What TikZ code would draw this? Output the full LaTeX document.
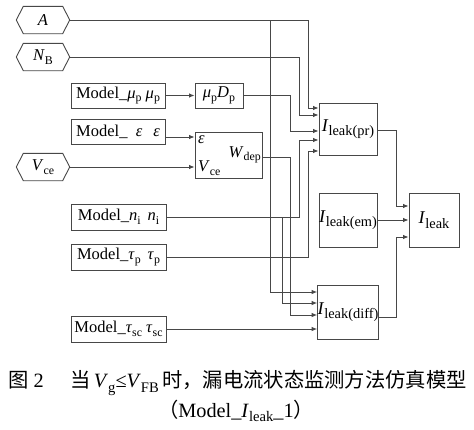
\documentclass[tikz,border=0pt]{standalone}
\usepackage{fontspec}
\setmainfont{Liberation Serif}
\newfontfamily\cjk{Noto Sans CJK SC}
\usetikzlibrary{arrows.meta}
\newcommand\sbs[1]{\raisebox{-0.22em}{\scalebox{0.72}{#1}}}
\newcommand\sbb[1]{\raisebox{-0.25em}{\scalebox{0.8}{#1}}}
\newcommand\mi[1]{\textit{#1}}
\newcommand\hexnode[3]{%
  \node[lbl, minimum width=53pt, minimum height=27pt] (#1) at (#2) {#3};
  \draw[wire] (#1.west) -- ([xshift=7pt]#1.north west) -- ([xshift=-7pt]#1.north east)
    -- (#1.east) -- ([xshift=-7pt]#1.south east) -- ([xshift=7pt]#1.south west) -- cycle;}
\begin{document}
\begin{tikzpicture}[x=1pt,y=-1pt,
  wire/.style={draw=black!72, line width=0.9pt},
  arr/.style={wire, -{Latex[length=5.5pt,width=4.5pt]}},
  lbl/.style={inner sep=0pt, font=\fontsize{16.5}{18}\selectfont},
  blk/.style={lbl, draw=black!72, line width=0.9pt, rectangle},
  big/.style={font=\fontsize{18}{20}\selectfont},
  captext/.style={inner sep=0pt, font=\fontsize{20.3}{22}\selectfont}
]
\useasboundingbox (0,0) rectangle (474,429);
% inputs
\hexnode{A}{43,20}{\mi{A}}
\hexnode{NB}{43,57}{\mi{N}\sbs{B}}
\hexnode{Vce}{43,167}{\mi{V}\sbs{ce}}
% model boxes
\node[blk, minimum width=94pt, minimum height=25pt] (Mup) at (118,95.5) {Model\_\mi{μ}\sbs{p} \mi{μ}\sbs{p}};
\node[blk, minimum width=94pt, minimum height=25pt] (Meps) at (118,132) {Model\_\,\,\,\mi{ε}\,\,\,\,\mi{ε}};
\node[blk, minimum width=95pt, minimum height=26pt] (Mni) at (118.5,217) {Model\_\mi{n}\sbs{i}\, \mi{n}\sbs{i}};
\node[blk, minimum width=95pt, minimum height=26pt] (Mtp) at (118.5,257) {Model\_\mi{τ}\sbs{p}\, \mi{τ}\sbs{p}};
\node[blk, minimum width=95pt, minimum height=26pt] (Mtsc) at (118.5,329) {Model\_\mi{τ}\sbs{sc} \mi{τ}\sbs{sc}};
% intermediate
\node[blk, minimum width=48pt, minimum height=25pt] (MD) at (219,95.5) {\mi{μ}\sbs{p}\mi{D}\sbs{p}};
\node[blk, minimum width=67pt, minimum height=46pt] (W) at (228.5,155) {};
\node[lbl, anchor=west] (We) at (198,140) {\mi{ε}};
\node[lbl, anchor=west] (Wv) at (198,168) {\mi{V}\sbs{ce}};
\node[lbl, anchor=east] (Wd) at (261,155) {\mi{W}\sbs{dep}};
% leak blocks
\node[blk, big, minimum width=58pt, minimum height=52pt] (pr) at (348,129) {\mi{I}\sbb{leak(pr)}};
\node[blk, big, minimum width=58pt, minimum height=54pt] (em) at (348,220) {\mi{I}\sbb{leak(em)}};
\node[blk, big, minimum width=58pt, minimum height=54pt] (df) at (348,312) {\raisebox{-4pt}{\mi{I}\sbb{leak(diff)}}};
\node[blk, big, minimum width=50pt, minimum height=54pt] (IL) at (434,220) {\mi{I}\sbb{leak}};
% connectors
\draw[arr] (A.east) -- (308,20) -- (308,108) -- (pr.west |- 0,108);
\draw[arr] (270,20) -- (270,292) -- (df.west |- 0,292);
\draw[arr] (NB.east) -- (299,57) -- (299,115) -- (pr.west |- 0,115);
\draw[arr] (Mup.east) -- (MD.west);
\draw[arr] (MD.east) -- (290,95.5) -- (290,131) -- (pr.west |- 0,131);
\draw[arr] (Meps.east |- 0,137) -- (W.west |- 0,137);
\draw[arr] (Vce.east) -- (W.west |- Vce.east);
\draw[arr] (W.east |- 0,157) -- (290,157) -- (290,315) -- (df.west |- 0,315);
\draw[arr] (Mni.east) -- (299,217) -- (299,140) -- (pr.west |- 0,140);
\draw[arr] (282,217) -- (282,303) -- (df.west |- 0,303);
\draw[arr] (Mtp.east) -- (308,257) -- (308,151) -- (pr.west |- 0,151);
\draw[arr] (Mtsc.east) -- (df.west |- Mtsc.east);
\draw[arr] (pr.east |- 0,130) -- (396,130) -- (396,206) -- (IL.west |- 0,206);
\draw[arr] (em.east) -- (IL.west);
\draw[arr] (df.east |- 0,317) -- (396,317) -- (396,237) -- (IL.west |- 0,237);
% caption
\node[captext] (c1) at (237.5,383) {{\cjk 图}~2\hspace{1.3em}{\cjk 当}\,\mi{V}\sbs{g}≤\mi{V}\sbs{FB}\,{\cjk 时，漏电流状态监测方法仿真模型}};
\node[captext] (c2) at (236,411) {{\cjk （}Model\_\mi{I}\sbs{leak}\_1{\cjk ）}};
\end{tikzpicture}
\end{document}
